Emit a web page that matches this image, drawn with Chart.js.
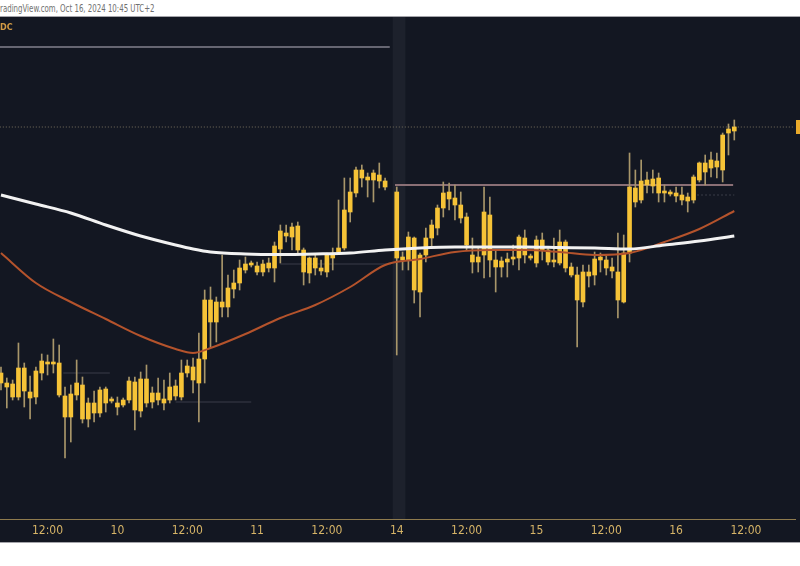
<!DOCTYPE html>
<html lang="en">
<head>
    <meta charset="UTF-8">
    <title>Gold 1h</title>
    <script src="https://cdn.jsdelivr.net/npm/chart.js"></script>
    <style>
        body {
            margin: 0;
            width: 800px;
            height: 566px;
            background: #ffffff;
            position: relative;
            overflow: hidden;
            font-family: 'Liberation Sans Narrow', 'DejaVu Sans Condensed', sans-serif;
        }

        #header {
            position: absolute;
            left: 0;
            top: 3px;
            font-size: 10px;
            color: #707070;
            white-space: nowrap;
            transform: scaleX(0.78);
            transform-origin: left top;
        }

        .rule {
            position: absolute;
            left: 0;
            width: 800px;
            height: 1px;
            background: #a4a4aa;
        }

        #chart-box {
            position: absolute;
            left: 0;
            top: 17px;
            width: 800px;
            height: 525px;
            background: #131722;
        }

        #symbol {
            position: absolute;
            left: 0;
            top: 22px;
            font-size: 9px;
            font-weight: bold;
            color: #d39b45;
        }
    </style>
</head>
<body>
    <div id="header">radingView.com, Oct 16, 2024 10:45 UTC+2</div>
    <div class="rule" style="top:16px"></div>
    <div id="chart-box">
        <canvas id="chart" width="800" height="525"></canvas>
    </div>
    <div id="symbol">DC</div>
    <div class="rule" style="top:542px"></div>

    <script>
        // Stundenkerzen, Index 0 = 9. Okt 04:00 (Wochenende ausgeblendet)
        const opens = [
            2626.8, 2626.8, 2626.6, 2624.0, 2629.8, 2625.0, 2624.0, 2628.8, 2631.0, 2630.6,
            2630.8, 2624.2, 2620.0, 2624.4, 2626.4, 2619.6, 2622.8, 2620.8, 2625.6, 2623.2,
            2622.8, 2622.4, 2623.4, 2627.0, 2621.2, 2627.6, 2623.0, 2624.8, 2623.6, 2623.4,
            2626.2, 2624.0, 2628.8, 2630.0, 2626.8, 2631.6, 2643.4, 2639.0, 2643.0, 2642.0,
            2645.6, 2646.8, 2649.4, 2650.8, 2650.2, 2649.0, 2650.8, 2649.8, 2653.6, 2656.8,
            2656.0, 2658.2, 2653.4, 2648.8, 2651.8, 2649.8, 2649.0, 2652.8, 2653.0, 2653.8,
            2661.0, 2664.8, 2669.4, 2668.0, 2667.4, 2668.4, 2667.2, null, 2665.0, 2652.0,
            2651.4, 2655.8, 2645.0, 2652.4, 2655.8, 2657.8, 2661.8, 2665.0, 2663.8, 2662.4,
            2660.0, 2652.4, 2651.0, 2652.4, 2660.4, 2651.4, 2650.0, 2651.0, 2651.6, 2651.8,
            2655.8, 2652.2, 2650.8, 2655.4, 2653.4, 2651.0, 2650.8, 2655.0, 2650.0, 2648.4,
            2643.0, 2649.0, 2648.4, 2651.4, 2651.4, 2650.0, 2649.0, 2643.0, 2652.8, 2665.8,
            2663.4, 2667.4, 2666.2, 2667.8, 2664.8, 2665.0, 2664.8, 2664.4, 2663.2, 2663.4,
            2667.4, 2670.8, 2669.8, 2671.2, 2669.4, 2676.8, 2677.2
        ];
        const highs = [
            2630.0, 2627.8, 2627.4, 2634.8, 2630.8, 2628.2, 2630.0, 2632.6, 2632.4, 2635.6,
            2634.4, 2626.0, 2626.4, 2631.4, 2628.0, 2623.8, 2625.2, 2626.0, 2626.0, 2624.0,
            2624.0, 2623.8, 2628.0, 2628.0, 2629.0, 2630.4, 2626.0, 2627.8, 2627.4, 2628.8,
            2627.4, 2631.4, 2631.4, 2631.8, 2636.8, 2645.4, 2646.0, 2644.0, 2652.4, 2648.4,
            2649.4, 2651.4, 2652.0, 2651.2, 2651.0, 2651.4, 2651.8, 2655.0, 2658.4, 2658.4,
            2658.8, 2659.0, 2653.8, 2652.0, 2652.4, 2651.4, 2652.8, 2653.8, 2663.4, 2667.8,
            2667.8, 2670.0, 2670.4, 2668.8, 2669.4, 2670.8, 2667.8, null, 2666.0, 2653.0,
            2657.0, 2656.0, 2652.8, 2657.8, 2659.4, 2662.4, 2667.0, 2666.8, 2666.4, 2665.0,
            2660.8, 2655.8, 2654.0, 2666.0, 2664.0, 2653.4, 2652.0, 2652.8, 2654.4, 2656.4,
            2657.4, 2652.6, 2656.2, 2656.8, 2653.8, 2655.8, 2657.4, 2655.4, 2650.8, 2650.0,
            2650.4, 2650.4, 2653.0, 2652.8, 2652.2, 2651.8, 2656.8, 2656.4, 2672.8, 2669.4,
            2671.4, 2669.0, 2669.4, 2668.8, 2666.4, 2665.4, 2666.0, 2666.0, 2664.8, 2668.4,
            2671.0, 2672.4, 2673.0, 2672.8, 2676.8, 2678.6, 2679.4
        ];
        const lows = [
            2625.4, 2621.8, 2623.4, 2623.4, 2622.0, 2619.6, 2622.6, 2627.4, 2628.4, 2628.8,
            2624.0, 2611.8, 2615.0, 2623.4, 2618.8, 2618.0, 2619.0, 2620.0, 2621.0, 2622.8,
            2620.4, 2622.0, 2622.8, 2617.4, 2620.0, 2622.0, 2621.8, 2622.4, 2621.4, 2622.8,
            2623.4, 2623.4, 2628.0, 2624.8, 2619.0, 2626.8, 2634.0, 2635.0, 2640.0, 2640.0,
            2643.8, 2645.4, 2648.8, 2650.0, 2648.4, 2648.2, 2649.0, 2647.0, 2650.8, 2655.0,
            2653.4, 2652.4, 2646.4, 2646.8, 2648.4, 2648.4, 2648.0, 2649.4, 2652.8, 2653.4,
            2659.0, 2664.0, 2666.0, 2664.0, 2663.0, 2665.8, 2665.4, null, 2632.4, 2649.4,
            2649.4, 2642.8, 2640.0, 2651.0, 2654.0, 2656.4, 2660.0, 2661.4, 2659.4, 2658.8,
            2653.4, 2648.8, 2649.0, 2647.8, 2648.0, 2645.0, 2648.0, 2648.0, 2650.4, 2649.4,
            2650.8, 2651.4, 2650.0, 2651.4, 2650.4, 2650.0, 2650.4, 2649.0, 2648.0, 2634.0,
            2642.0, 2646.0, 2646.4, 2649.0, 2648.4, 2647.8, 2639.8, 2642.8, 2651.0, 2662.0,
            2662.8, 2664.8, 2664.8, 2663.0, 2663.0, 2664.2, 2663.0, 2662.4, 2661.0, 2662.8,
            2667.0, 2666.4, 2668.0, 2667.8, 2667.0, 2672.4, 2675.4
        ];
        const closes = [
            2628.8, 2626.0, 2624.0, 2629.8, 2625.2, 2623.8, 2629.2, 2631.2, 2630.6, 2631.0,
            2624.4, 2620.0, 2624.6, 2626.8, 2619.6, 2622.8, 2620.8, 2625.4, 2622.8, 2623.6,
            2622.0, 2623.4, 2627.2, 2621.4, 2627.6, 2622.8, 2624.8, 2623.4, 2622.8, 2626.0,
            2624.2, 2628.8, 2630.2, 2627.4, 2631.6, 2643.4, 2639.0, 2643.0, 2642.0, 2645.8,
            2646.8, 2649.8, 2650.6, 2650.4, 2649.0, 2650.6, 2649.8, 2654.2, 2657.2, 2656.2,
            2658.0, 2653.4, 2649.0, 2651.8, 2649.8, 2649.2, 2652.4, 2651.8, 2653.8, 2661.4,
            2665.0, 2669.4, 2667.8, 2667.4, 2668.8, 2667.2, 2666.0, null, 2651.8, 2651.4,
            2656.0, 2645.4, 2652.4, 2655.8, 2658.4, 2661.8, 2664.8, 2663.6, 2662.4, 2659.8,
            2654.4, 2651.0, 2652.0, 2661.0, 2651.4, 2650.0, 2651.2, 2651.6, 2652.0, 2656.0,
            2652.4, 2651.8, 2655.4, 2653.4, 2651.0, 2651.4, 2655.0, 2649.8, 2648.4, 2643.4,
            2649.0, 2648.2, 2651.6, 2652.0, 2649.8, 2649.2, 2643.4, 2652.8, 2666.0, 2663.0,
            2667.2, 2666.4, 2667.6, 2664.8, 2665.2, 2664.6, 2664.2, 2663.4, 2664.0, 2668.0,
            2670.8, 2669.0, 2671.4, 2670.0, 2676.4, 2677.6, 2678.0
        ];

        // gleitende Durchschnitte
        const maIdx   = [0, 6, 12, 18, 24, 30, 33, 36, 42, 48, 54, 60, 66, 72, 78, 84, 90, 96, 102, 108, 114, 120, 126];
        const maWhite = [2664.4, 2662.6, 2660.8, 2658.4, 2656.2, 2654.4, 2653.6, 2653.0, 2652.6, 2652.5, 2652.6, 2652.8,
                         2653.4, 2653.8, 2654.0, 2654.0, 2654.0, 2653.9, 2653.8, 2653.6, 2654.4, 2655.2, 2656.2];
        const maOrange = [2652.8, 2646.8, 2643.0, 2639.6, 2636.2, 2633.6, 2632.8, 2633.8, 2636.6, 2639.8, 2642.4, 2646.0,
                          2650.4, 2651.6, 2653.0, 2653.4, 2653.4, 2653.0, 2652.4, 2652.8, 2655.0, 2657.6, 2661.2];

        // horizontale Linien: Preis, von Index, bis Index
        const levelPrice = [2694.0, 2678.0, 2666.4, 2628.8, 2623.0, 2650.6, 2664.4];
        const levelFrom  = [-0.2, -0.2, 67.7, 10.7, 30.0, 48.0, 119.6];
        const levelTo    = [66.8, 136.4, 125.8, 18.7, 43.0, 67.0, 126.0];

        // Achsenbeschriftung
        const tickPos  = [8, 20, 32, 44, 56, 68, 80, 92, 104, 116, 128];
        const tickText = ['12:00', '10', '12:00', '11', '12:00', '14', '12:00', '15', '12:00', '16', '12:00'];

        const sessionBreak = 68.4;

        const yMin = 2599.6, yMax = 2700;
        const levelStyle = [
            { color: '#666672', width: 2, dash: [] },
            { color: '#77715f', width: 1, dash: [1, 2] },
            { color: '#8a6f75', width: 2, dash: [] },
            { color: '#3a3d49', width: 1, dash: [] },
            { color: '#3a3d49', width: 1, dash: [] },
            { color: '#3a3d49', width: 1, dash: [] },
            { color: '#3a3d49', width: 1, dash: [2, 2] }
        ];

        const wickData = [];
        const bodyData = [];
        opens.forEach((o, i) => {
            if (o === null) return;
            wickData.push({ x: i, y: [lows[i], highs[i]] });
            bodyData.push({ x: i, y: [o, closes[i]] });
        });

        const levelSets = levelPrice.map((p, i) => ({
            type: 'line',
            data: [{ x: levelFrom[i], y: p }, { x: levelTo[i], y: p }],
            borderColor: levelStyle[i].color,
            borderWidth: levelStyle[i].width,
            borderDash: levelStyle[i].dash,
            pointRadius: 0,
            order: 8
        }));

        // Preisschild am rechten Rand
        const priceTag = {
            id: 'priceTag',
            afterDraw(chart) {
                const y = chart.scales.y.getPixelForValue(closes[closes.length - 1]);
                const ctx = chart.ctx;
                ctx.save();
                ctx.fillStyle = '#e9aa2b';
                ctx.fillRect(796, y - 7, 8, 14);
                ctx.restore();
            }
        };

        new Chart(document.getElementById('chart'), {
            type: 'bar',
            data: {
                datasets: [
                    {
                        data: [{ x: sessionBreak, y: [yMin, yMax] }],
                        backgroundColor: 'rgba(120, 124, 140, 0.10)',
                        barThickness: 12,
                        grouped: false,
                        order: 10
                    },
                    ...levelSets,
                    {
                        data: wickData,
                        backgroundColor: '#a8966a',
                        barThickness: 1,
                        grouped: false,
                        order: 5
                    },
                    {
                        data: bodyData,
                        backgroundColor: '#f6c337',
                        barThickness: 4,
                        grouped: false,
                        order: 4
                    },
                    {
                        type: 'line',
                        data: maIdx.map((x, i) => ({ x: x, y: maOrange[i] })),
                        borderColor: '#b4532c',
                        borderWidth: 2,
                        pointRadius: 0,
                        cubicInterpolationMode: 'monotone',
                        order: 2
                    },
                    {
                        type: 'line',
                        data: maIdx.map((x, i) => ({ x: x, y: maWhite[i] })),
                        borderColor: '#f2f2f2',
                        borderWidth: 3,
                        pointRadius: 0,
                        cubicInterpolationMode: 'monotone',
                        order: 1
                    }
                ]
            },
            options: {
                responsive: false,
                animation: false,
                layout: { padding: { left: 0, right: 5, top: 0, bottom: 0 } },
                plugins: {
                    legend: { display: false },
                    tooltip: { enabled: false }
                },
                scales: {
                    x: {
                        type: 'linear',
                        min: -0.17,
                        max: 136.43,
                        offset: false,
                        afterBuildTicks: (scale) => {
                            scale.ticks = tickPos.map(v => ({ value: v }));
                        },
                        afterFit: (scale) => {
                            scale.height = 23;
                        },
                        grid: { display: false, drawTicks: false },
                        border: { display: true, color: '#8f7b4e', width: 1 },
                        ticks: {
                            autoSkip: false,
                            maxRotation: 0,
                            padding: 5,
                            color: '#d6b467',
                            font: { family: "'Liberation Sans Narrow', 'DejaVu Sans Condensed', sans-serif", size: 12 },
                            callback: (v) => {
                                const k = tickPos.indexOf(v);
                                return k >= 0 ? tickText[k] : '';
                            }
                        }
                    },
                    y: {
                        display: false,
                        min: yMin,
                        max: yMax
                    }
                }
            },
            plugins: [priceTag]
        });
    </script>
</body>
</html>
